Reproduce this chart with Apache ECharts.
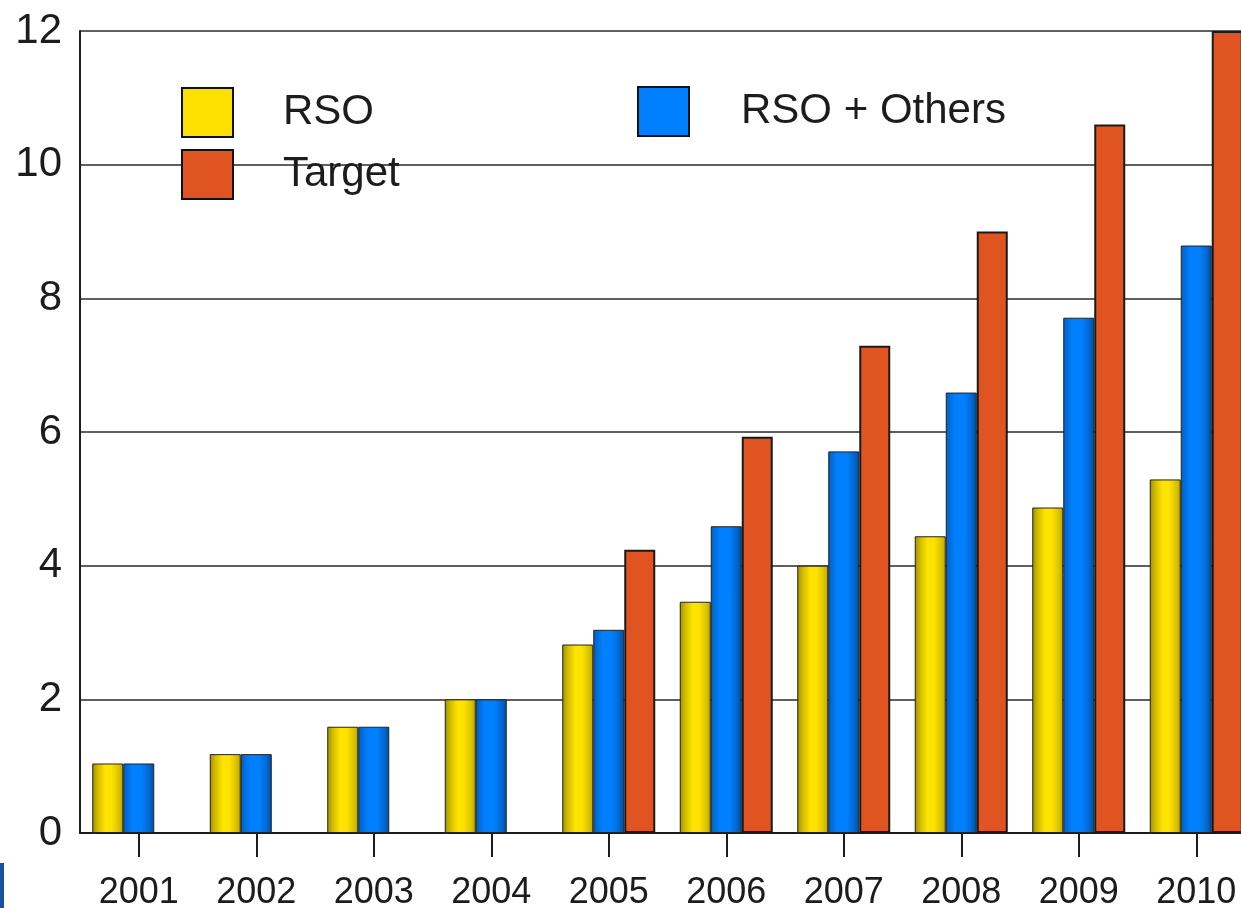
<!DOCTYPE html>
<html>
<head>
<meta charset="utf-8">
<script src="https://cdn.jsdelivr.net/npm/echarts@6/dist/echarts.min.js"></script>
<style>
  html, body { margin: 0; padding: 0; background: #ffffff; }
  #chart { width: 1241px; height: 908px; }
</style>
</head>
<body>
<div id="chart"></div>
<script>
// Years on the category axis
const years = ['2001', '2002', '2003', '2004', '2005', '2006', '2007', '2008', '2009', '2010'];

// Series values
const rso = [1.04, 1.18, 1.59, 2.0, 2.82, 3.46, 4.0, 4.44, 4.87, 5.29];
const rsoOthers = [1.04, 1.18, 1.59, 2.0, 3.04, 4.59, 5.71, 6.59, 7.71, 8.79];
const target = [null, null, null, null, 4.24, 5.93, 7.29, 9.0, 10.6, 12.0];

// Value-axis ticks
const yMin = 0, yMax = 12, yStep = 2;

const FONT = '"Liberation Sans", Arial, sans-serif';
const INK = '#1c1c1c';

const yellowFill = new echarts.graphic.LinearGradient(0, 0, 1, 0, [
  { offset: 0, color: '#a08f00' },
  { offset: 0.18, color: '#d2bd00' },
  { offset: 0.42, color: '#ffe400' },
  { offset: 0.62, color: '#ffe200' },
  { offset: 0.85, color: '#dcc500' },
  { offset: 1, color: '#b8a400' }
]);
const blueFill = new echarts.graphic.LinearGradient(0, 0, 1, 0, [
  { offset: 0, color: '#0060c0' },
  { offset: 0.3, color: '#0080ff' },
  { offset: 0.6, color: '#0080ff' },
  { offset: 0.85, color: '#0066cc' },
  { offset: 1, color: '#004e9a' }
]);

const legendText = (pad) => ({
  fontFamily: FONT, fontSize: 42, color: INK, padding: [7, 0, 0, pad]
});
const legendBase = {
  itemWidth: 51, itemHeight: 49, icon: 'rect', selectedMode: false, padding: 0
};

const chart = echarts.init(document.getElementById('chart'), null, { renderer: 'canvas' });
chart.setOption({
  animation: false,
  backgroundColor: '#ffffff',
  // plot area runs past the right edge of the canvas
  grid: { left: 80, top: 31, width: 1175, height: 802, containLabel: false, outerBoundsMode: 'none' },
  legend: [
    Object.assign({}, legendBase, {
      left: 181, top: 87, textStyle: legendText(45),
      data: [{ name: 'RSO', itemStyle: { color: '#fce000', borderColor: '#111', borderWidth: 2 } }]
    }),
    Object.assign({}, legendBase, {
      left: 181, top: 149, textStyle: legendText(45),
      data: [{ name: 'Target', itemStyle: { color: '#df5421', borderColor: '#111', borderWidth: 2 } }]
    }),
    Object.assign({}, legendBase, {
      left: 637, top: 86, textStyle: legendText(47),
      data: [{ name: 'RSO + Others', itemStyle: { color: '#0080ff', borderColor: '#111', borderWidth: 2 } }]
    })
  ],
  xAxis: {
    type: 'category',
    data: years,
    boundaryGap: true,
    axisLine: { show: true, lineStyle: { color: INK, width: 2 } },
    axisTick: { show: true, alignWithLabel: true, length: 24, lineStyle: { color: INK, width: 2 } },
    axisLabel: { fontFamily: FONT, fontSize: 36, color: INK, margin: 42 },
    splitLine: { show: false }
  },
  yAxis: {
    type: 'value',
    min: yMin, max: yMax, interval: yStep,
    axisLine: { show: true, lineStyle: { color: INK, width: 2 } },
    axisTick: { show: false },
    axisLabel: { fontFamily: FONT, fontSize: 42, color: INK, margin: 18, padding: [4, 0, 0, 0] },
    splitLine: { show: true, lineStyle: { color: '#2a2a2a', width: 1.5 } }
  },
  series: [
    {
      name: 'RSO', type: 'bar', data: rso, barWidth: 31, barGap: '0%',
      itemStyle: { color: yellowFill, borderColor: '#222', borderWidth: 1 }
    },
    {
      name: 'RSO + Others', type: 'bar', data: rsoOthers, barWidth: 31, barGap: '0%',
      itemStyle: { color: blueFill, borderColor: '#222', borderWidth: 1 }
    },
    {
      name: 'Target', type: 'bar', data: target, barWidth: 31, barGap: '0%',
      itemStyle: { color: '#df5421', borderColor: '#1a1a1a', borderWidth: 2 }
    }
  ],
  graphic: [
    { type: 'rect', left: 0, top: 863, shape: { width: 4, height: 45 }, style: { fill: '#1552a0' } }
  ]
});
</script>
</body>
</html>
